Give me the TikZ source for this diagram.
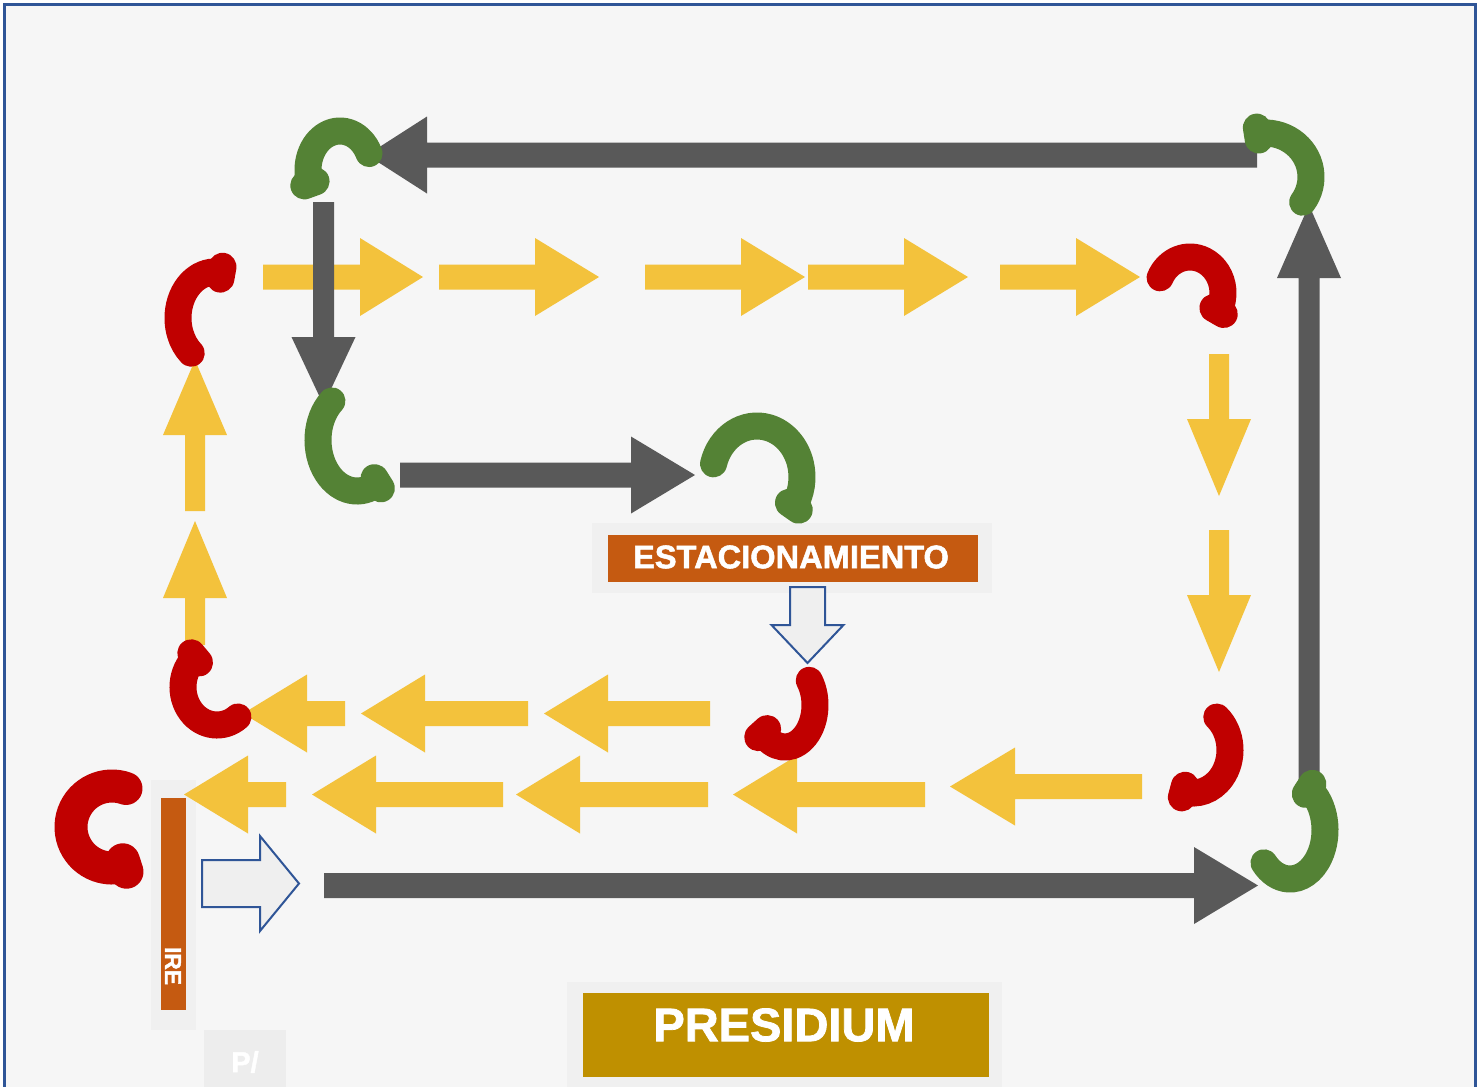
\documentclass[tikz,border=0pt]{standalone}
\usepackage{fontspec}
\setmainfont{Liberation Sans}
\newfontfamily\blackfont[FakeBold=1.6]{Liberation Sans}
\definecolor{bg}{HTML}{F6F6F6}
\definecolor{frame}{HTML}{2F5597}
\definecolor{gry}{HTML}{595959}
\definecolor{yel}{HTML}{F3C23C}
\definecolor{grn}{HTML}{548235}
\definecolor{rd}{HTML}{C00000}
\definecolor{org}{HTML}{C55A11}
\definecolor{gold}{HTML}{BF9000}
\definecolor{panel}{HTML}{F0F0F0}
\definecolor{pbox}{HTML}{EDEDED}
\definecolor{outl}{HTML}{EFEFEF}
% horizontal arrow: style, x tail, x head base, x tip, y, shaft half, head half
\newcommand\HArr[7]{\path[#1] (#2,#5-#6) -- (#3,#5-#6) -- (#3,#5-#7) -- (#4,#5) -- (#3,#5+#7) -- (#3,#5+#6) -- (#2,#5+#6) -- cycle;}
% vertical arrow: style, y tail, y head base, y tip, x, shaft half, head half
\newcommand\VArr[7]{\path[#1] (#5-#6,#2) -- (#5-#6,#3) -- (#5-#7,#3) -- (#5,#4) -- (#5+#7,#3) -- (#5+#6,#3) -- (#5+#6,#2) -- cycle;}
% bend: style, cx, cy, rx, ry, start, end, knob angle, knob width
\newcommand\Bend[9]{%
  \draw[#1] (#2,#3) ++(#6:#4 and #5) arc[start angle=#6, end angle=#7, x radius=#4, y radius=#5];
  \pgfmathsetmacro\rxa{#4-6}\pgfmathsetmacro\rya{#5-6}%
  \pgfmathsetmacro\rxb{#4+6}\pgfmathsetmacro\ryb{#5+6}%
  \draw[#1, line width=#9] (#2,#3) +(#8:\rxa\space and \rya) -- +(#8:\rxb\space and \ryb);}
\tikzset{
  gbend/.style={draw=grn, line width=13.5pt, line cap=round},
  rbend/.style={draw=rd, line width=13.5pt, line cap=round},
  rbig/.style={draw=rd, line width=16.5pt, line cap=round},
  lbl/.style={text=white, inner sep=0pt},
}
\begin{document}
\begin{tikzpicture}[x=0.5pt, y=-0.5pt]
\useasboundingbox (0,0) rectangle (1484,1087);
\fill[white] (0,0) rectangle (1484,1087);
\filldraw[fill=bg, draw=frame, line width=1.5pt] (4,4) rectangle (1475,1100);

% panels and boxes
\fill[panel] (592,523) rectangle (992,593);
\fill[org] (608,535) rectangle (978,582);
\node[lbl, font=\blackfont\bfseries\fontsize{16.3}{16}\selectfont] (estac) at (791,557) {ESTACIONAMIENTO};

\fill[panel] (151,780) rectangle (196,1030);
\fill[org] (161,798) rectangle (186,1010);
\node[lbl, font=\blackfont\bfseries\fontsize{11.4}{11}\selectfont, rotate=-90] (ire) at (173,966) {IRE};

\fill[pbox] (204,1030) rectangle (286,1087);
\node[lbl, font=\blackfont\bfseries\fontsize{14.5}{14}\selectfont] (pbar) at (245,1062) {P/};

\fill[panel] (567,982) rectangle (1002,1087);
\fill[gold] (583,993) rectangle (989,1077);
\node[lbl, font=\blackfont\bfseries\fontsize{23.5}{23}\selectfont] (pres) at (784,1025) {PRESIDIUM};

% yellow arrows
\HArr{fill=yel}{263}{360}{423}{277}{12.5}{39}
\HArr{fill=yel}{439}{535}{599}{277}{12.5}{39}
\HArr{fill=yel}{645}{741}{805}{277}{12.5}{39}
\HArr{fill=yel}{808}{904}{968}{277}{12.5}{39}
\HArr{fill=yel}{1000}{1076}{1140}{277}{12.5}{39}
\HArr{fill=yel}{345}{307}{243}{713.5}{12.5}{39}
\HArr{fill=yel}{528}{425}{361}{713.5}{12.5}{39}
\HArr{fill=yel}{710}{608}{544}{713.5}{12.5}{39}
\HArr{fill=yel}{286}{248}{184}{794.5}{12.5}{39}
\HArr{fill=yel}{503}{376}{312}{794.5}{12.5}{39}
\HArr{fill=yel}{708}{580}{516}{794.5}{12.5}{39}
\HArr{fill=yel}{925}{797}{733}{794.5}{12.5}{39}
\HArr{fill=yel}{1142}{1015}{950}{786.5}{12.5}{39}
\VArr{fill=yel}{354}{419}{496}{1219}{10}{32}
\VArr{fill=yel}{530}{595}{672}{1219}{10}{32}
\VArr{fill=yel}{511}{435}{360}{195}{10}{32}
\VArr{fill=yel}{645}{598}{521}{195}{10}{32}

% gray arrows
\HArr{fill=gry}{1257}{427}{367}{155}{12.5}{38.5}
\HArr{fill=gry}{400}{631}{695}{475}{12.5}{38.5}
\HArr{fill=gry}{324}{1194}{1258}{885.5}{12.5}{38.5}
\VArr{fill=gry}{202}{337}{405}{323.5}{10.5}{32}
\VArr{fill=gry}{780}{278}{205}{1309}{10.5}{32}

% outlined arrows
\VArr{fill=outl, draw=frame, line width=1pt}{587}{625}{663}{807.5}{17.5}{36}
\HArr{fill=outl, draw=frame, line width=1pt}{202}{260}{299}{883.5}{23.5}{47.5}

% green bends
\Bend{gbend}{340}{170}{32}{39}{-25}{-200}{-200}{14pt}
\Bend{gbend}{357}{440}{39}{51}{-130}{-302}{-302}{14pt}
\Bend{gbend}{757}{477}{45}{51}{-165}{35}{35}{14pt}
\Bend{gbend}{1265}{177}{46}{44}{-99}{35}{-99}{14pt}
\Bend{gbend}{1290}{830}{35}{49}{-57}{138}{-57}{14pt}

% red bends
\Bend{rbend}{215}{318}{37}{46}{-80}{-230}{-80}{14pt}
\Bend{rbend}{1190}{293}{33}{36}{-155}{30}{30}{14pt}
\Bend{rbend}{217}{687}{34}{38}{-130}{-308}{-130}{14pt}
\Bend{rbend}{785}{705}{30}{42}{-36}{138}{138}{14pt}
\Bend{rbend}{1193}{750}{37}{43}{-50}{105}{105}{14pt}
\Bend{rbig}{112}{827}{41}{41}{-70}{-288}{-288}{17pt}
\end{tikzpicture}
\end{document}
